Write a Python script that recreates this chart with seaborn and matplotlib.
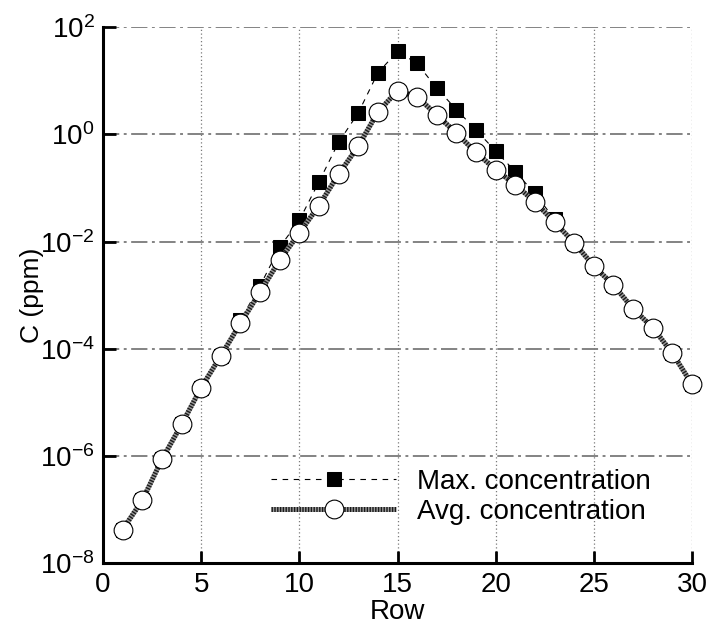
import matplotlib
matplotlib.use("Agg")
import matplotlib.pyplot as plt
import numpy as np
import pandas as pd
import seaborn as sns
from matplotlib.ticker import FixedLocator, LogFormatterSciNotation, NullLocator
from matplotlib.legend_handler import HandlerTuple

# ---- data ----
rows = list(range(1, 31))
avg_conc = [4.3e-8, 1.5e-7, 8.7e-7, 3.9e-6, 1.9e-5, 7.4e-5, 3.0e-4, 1.15e-3,
            4.5e-3, 1.45e-2, 4.7e-2, 0.18, 0.60, 2.6, 6.5, 5.0, 2.3, 1.05,
            0.46, 0.22, 0.115, 0.055, 0.023, 9.5e-3, 3.5e-3, 1.55e-3, 5.6e-4,
            2.5e-4, 8.3e-5, 2.2e-5]
max_conc = [4.3e-8, 1.5e-7, 8.7e-7, 3.9e-6, 1.9e-5, 7.4e-5, 3.5e-4, 1.5e-3,
            7.9e-3, 2.5e-2, 0.13, 0.71, 2.5, 14.0, 35.0, 21.0, 7.2, 2.9,
            1.2, 0.49, 0.20, 0.079, 0.026, 9.5e-3, 3.5e-3, 1.55e-3, 5.6e-4,
            2.5e-4, 8.3e-5, 2.2e-5]
x_ticks = [0, 5, 10, 15, 20, 25, 30]
y_ticks = [1e-8, 1e-6, 1e-4, 1e-2, 1e0, 1e2]
series_labels = ["Max. concentration", "Avg. concentration"]
x_label = "Row"
y_label = "C (ppm)"

df = pd.DataFrame({"row": rows, "avg": avg_conc, "max": max_conc})

# ---- style ----
sns.set_theme(style="white")
plt.rcParams["font.family"] = ["Liberation Sans", "DejaVu Sans"]
plt.rcParams["mathtext.fontset"] = "custom"
plt.rcParams["mathtext.rm"] = "Liberation Sans"
plt.rcParams["mathtext.it"] = "Liberation Sans:italic"
plt.rcParams["mathtext.bf"] = "Liberation Sans:bold"
plt.rcParams["text.color"] = "black"
plt.rcParams["axes.labelcolor"] = "black"
plt.rcParams["xtick.color"] = "black"
plt.rcParams["ytick.color"] = "black"

fig = plt.figure(figsize=(7.09, 6.27), dpi=100)
ax = fig.add_axes([0.1453, 0.1013, 0.8307, 0.8556])

# max concentration: thin dashed line with black squares
sns.lineplot(data=df, x="row", y="max", ax=ax, color="black", linewidth=0.8,
             marker="s", markersize=9.5, markerfacecolor="black",
             markeredgecolor="black", zorder=3, clip_on=False)
l_max = ax.lines[-1]
l_max.set_dashes((5, 5))

# avg concentration: hatched thick line with white circles
sns.lineplot(data=df, x="row", y="avg", ax=ax, color="#9a9a9a", linewidth=3.6,
             zorder=4)
l_base = ax.lines[-1]
l_base.set_solid_capstyle("butt")
sns.lineplot(data=df, x="row", y="avg", ax=ax, color="#1a1a1a", linewidth=3.6,
             zorder=4)
l_str = ax.lines[-1]
l_str.set_dashes((0.28, 0.28))
l_str.set_dash_capstyle("butt")
sns.lineplot(data=df, x="row", y="avg", ax=ax, color="black", linewidth=0,
             marker="o", markersize=13.5, markerfacecolor="white",
             markeredgecolor="black", markeredgewidth=0.8, zorder=5,
             clip_on=False)
l_circ = ax.lines[-1]

ax.set_yscale("log")
ax.set_xlim(0, 30)
ax.set_ylim(1e-8, 1e2)
ax.xaxis.set_major_locator(FixedLocator(x_ticks))
ax.yaxis.set_major_locator(FixedLocator(y_ticks))
ax.yaxis.set_major_formatter(LogFormatterSciNotation())
ax.yaxis.set_minor_locator(NullLocator())
ax.xaxis.set_minor_locator(NullLocator())

ax.set_axisbelow(True)
ax.xaxis.grid(True, color="#7a7a7a", linewidth=0.9, linestyle=(0, (1, 2)))
ax.yaxis.grid(True, color="#7a7a7a", linewidth=1.3, linestyle=(0, (9, 2.5, 1.6, 2.5)))

for s in ["top", "right"]:
    ax.spines[s].set_visible(False)
for s in ["left", "bottom"]:
    ax.spines[s].set_visible(True)
    ax.spines[s].set_color("black")
    ax.spines[s].set_linewidth(2.2)

ax.tick_params(axis="both", which="major", direction="in", length=9, width=2,
               color="black", labelcolor="black", labelsize=20, pad=6,
               bottom=True, left=True, top=False, right=False)

ax.set_xlabel(x_label, fontsize=20, color="black", labelpad=1)
ax.set_ylabel(y_label, fontsize=19, color="black", labelpad=-3)

leg = ax.legend(handles=[l_max, (l_base, l_str, l_circ)], labels=series_labels,
                handler_map={tuple: HandlerTuple(ndivide=1, pad=0)},
                loc="center left", bbox_to_anchor=(0.286, 0.124),
                frameon=False, fontsize=20, handlelength=4.5,
                handletextpad=0.75, labelspacing=0.15, borderpad=0,
                borderaxespad=0)
for t in leg.get_texts():
    t.set_color("black")

fig.savefig("out.png", dpi=100)
